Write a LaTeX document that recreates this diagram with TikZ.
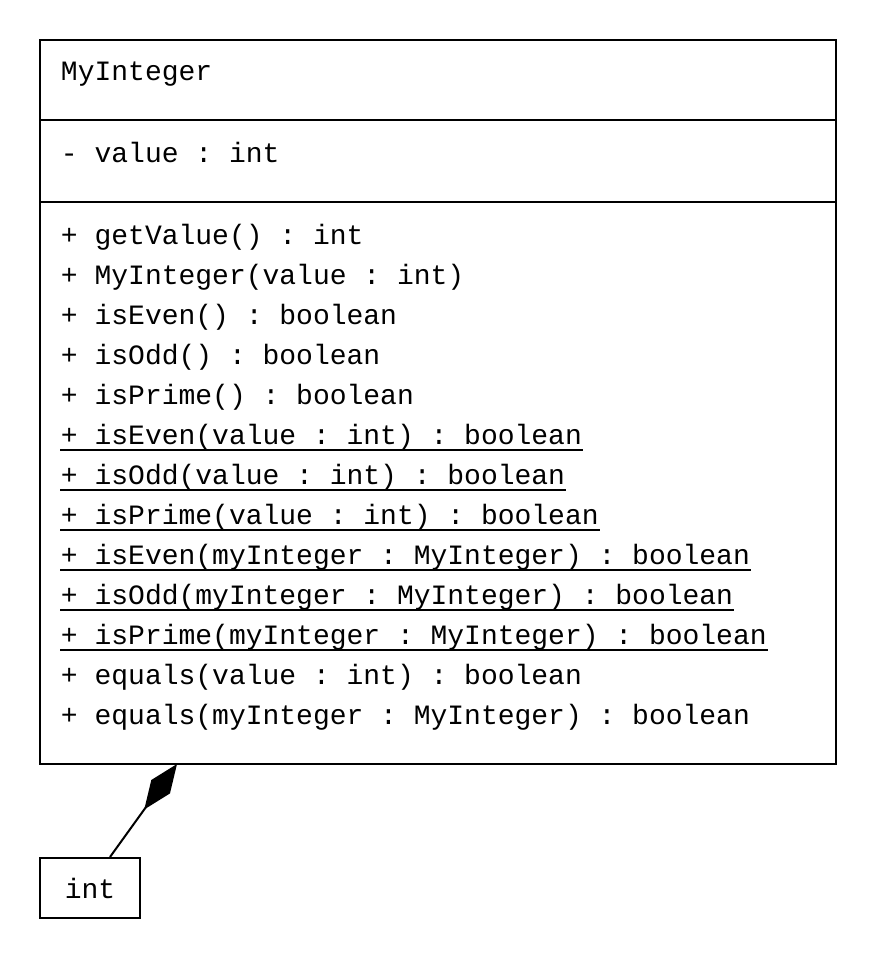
\documentclass[tikz,border=0pt]{standalone}
\usepackage{fontspec}
\setmonofont{Liberation Mono}
\usetikzlibrary{arrows.meta}

\tikzset{
  member/.style={anchor=base west, inner sep=0pt, font=\ttfamily\fontsize{14pt}{20pt}\selectfont},
  classbox/.style={draw, line width=1pt, inner sep=0pt, minimum width=50pt, minimum height=30pt,
    font=\ttfamily\fontsize{14pt}{20pt}\selectfont},
}

\begin{document}
\begin{tikzpicture}[x=0.5pt, y=-0.5pt, line width=1pt]
\useasboundingbox (0,0) rectangle (876,958);

%% class boundary
\draw (40,40) rectangle (836,764);
\draw (40,120) -- (836,120);
\draw (40,202) -- (836,202);

\node[member] (name) at (60,80) {MyInteger};
\node[member] (value) at (60,162) {- value : int};

\node[member] (getvalue) at (60,244) {+ getValue() : int};
\node[member] (ctor) at (60,284) {+ MyInteger(value : int)};
\node[member] (iseven) at (60,324) {+ isEven() : boolean};
\node[member] (isodd) at (60,364) {+ isOdd() : boolean};
\node[member] (isprime) at (60,404) {+ isPrime() : boolean};
\node[member] (sevenv) at (60,444) {+ isEven(value : int) : boolean};
\node[member] (soddv) at (60,484) {+ isOdd(value : int) : boolean};
\node[member] (sprimev) at (60,524) {+ isPrime(value : int) : boolean};
\node[member] (seveni) at (60,564) {+ isEven(myInteger : MyInteger) : boolean};
\node[member] (soddi) at (60,604) {+ isOdd(myInteger : MyInteger) : boolean};
\node[member] (sprimei) at (60,644) {+ isPrime(myInteger : MyInteger) : boolean};
\node[member] (eqv) at (60,684) {+ equals(value : int) : boolean};
\node[member] (eqi) at (60,724) {+ equals(myInteger : MyInteger) : boolean};

%% static members
\foreach \m in {sevenv,soddv,sprimev,seveni,soddi,sprimei}
  \draw[line width=0.75pt] ([yshift=-3pt]\m.base west) -- ([yshift=-3pt]\m.base east);

%% composition
\node[classbox] (intbox) at (90,888) {int};
\coordinate (ctip) at (177,764);
\draw[-{Diamond[length=28pt,width=11.5pt]}] ([xshift=10pt]intbox.north) -- (ctip);

\end{tikzpicture}
\end{document}
